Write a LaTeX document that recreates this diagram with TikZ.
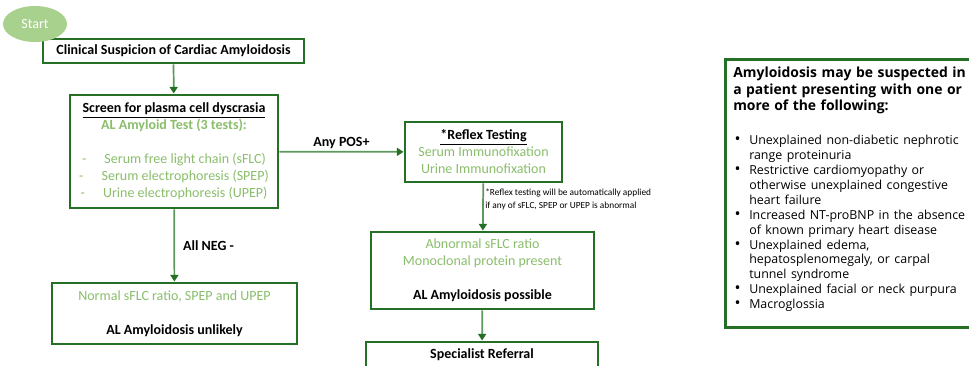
\documentclass[tikz,border=0pt]{standalone}
\usepackage{fontspec}
\setmainfont{Carlito}
\newfontfamily\opensans{Open Sans}
\usepackage{enumitem}
\usetikzlibrary{arrows.meta,shapes.geometric}

\definecolor{boxgreen}{RGB}{38,112,38}
\definecolor{linegreen}{RGB}{92,152,92}
\definecolor{textgreen}{RGB}{138,190,108}
\definecolor{startgreen}{RGB}{169,209,142}

\newcommand{\px}{0.75pt}
\newcommand{\tg}[1]{\textcolor{textgreen}{#1}}

\tikzset{
    flowbox/.style={draw=boxgreen, line width=2.2pt, fill=white, align=center,
        inner sep=0pt, font=\fontsize{10.5}{12.75}\selectfont},
    startnode/.style={ellipse, fill=startgreen, text=white, inner sep=0pt,
        minimum width=64*\px, minimum height=36*\px, font=\fontsize{10.5}{12}\selectfont},
    flowline/.style={draw=linegreen, line width=1.3pt,
        -{Triangle[width=6pt, length=5pt, color=boxgreen]}},
    edgelabel/.style={font=\fontsize{10.5}{12.75}\selectfont\bfseries, inner sep=2pt},
}

\begin{document}
\begin{tikzpicture}[x=\px, y=-\px]
    \path[use as bounding box] (0,0) rectangle (969,366);
    \clip (0,0) rectangle (969,366);

    % flow boxes
    \node[flowbox, minimum width=261*\px, minimum height=24*\px] (clinical) at (173.5,51)
        {\textbf{Clinical Suspicion of Cardiac Amyloidosis}};
    \node[startnode] (start) at (35,24) {Start};

    \node[flowbox, minimum width=208*\px, minimum height=113*\px] (screen) at (174,151.5)
        {\textbf{\underline{Screen for plasma cell dyscrasia}}\\
         \tg{\textbf{AL Amyloid Test (3 tests):}}\\[12.75pt]
         \tg{-\hspace{1.3em}Serum free light chain (sFLC)}\\
         \tg{-\hspace{1.3em}Serum electrophoresis (SPEP)}\\
         \tg{-\hspace{1.3em}Urine electrophoresis (UPEP)}};

    \node[flowbox, minimum width=157*\px, minimum height=60*\px] (reflex) at (483.5,152)
        {\textbf{\underline{*Reflex Testing}}\\
         \tg{Serum Immunofixation}\\
         \tg{Urine Immunofixation}};

    \node[flowbox, minimum width=223*\px, minimum height=77*\px] (abnormal) at (482.5,270.5)
        {\tg{Abnormal sFLC ratio}\\
         \tg{Monoclonal protein present}\\[12.75pt]
         \textbf{AL Amyloidosis possible}};

    \node[flowbox, minimum width=232*\px, minimum height=26*\px] (referral) at (482,355)
        {\textbf{Specialist Referral}};

    \node[flowbox, minimum width=245*\px, minimum height=61*\px] (normal) at (174.5,313.5)
        {\tg{Normal sFLC ratio, SPEP and UPEP}\\[12.75pt]
         \textbf{AL Amyloidosis unlikely}};

    % connectors
    \draw[flowline] (clinical) -- (screen);
    \draw[flowline] (screen) -- node[edgelabel, above] {Any POS+} (reflex);
    \draw[flowline] (reflex) -- (abnormal);
    \draw[flowline] (abnormal) -- (referral);
    \draw[flowline] (screen) -- node[edgelabel, right, xshift=4pt] {All NEG -} (normal);

    \node[anchor=west, align=left, inner sep=0pt, font=\fontsize{7}{9.75}\selectfont] (reflexnote) at (485,199.5)
        {*Reflex testing will be automatically applied\\
         if any of sFLC, SPEP or UPEP is abnormal};

    % presenting signs
    \node[draw=boxgreen, line width=2.2pt, anchor=north west, minimum width=258*\px,
        minimum height=268*\px] (signbox) at (724,58) {};
    \node[anchor=north west, inner sep=0pt, text width=240*\px, align=left] (signs) at (733,67)
        {{\opensans\fontsize{10.45}{12.4}\selectfont\bfseries
          Amyloidosis may be suspected in\\
          a patient presenting with one or\\
          more of the following:\par}
         \vspace{14pt}
         {\opensans\fontsize{9.3}{11.2}\selectfont
         \begin{itemize}[leftmargin=12pt, labelsep=6.5pt, itemsep=0pt, topsep=0pt,
             parsep=0pt, partopsep=0pt, label={\fontsize{12}{12}\selectfont\textbullet}]
             \item Unexplained non-diabetic nephrotic\\ range proteinuria
             \item Restrictive cardiomyopathy or\\ otherwise unexplained congestive\\ heart failure
             \item Increased NT-proBNP in the absence\\ of known primary heart disease
             \item Unexplained edema,\\ hepatosplenomegaly, or carpal\\ tunnel syndrome
             \item Unexplained facial or neck purpura
             \item Macroglossia
         \end{itemize}}};
\end{tikzpicture}
\end{document}
